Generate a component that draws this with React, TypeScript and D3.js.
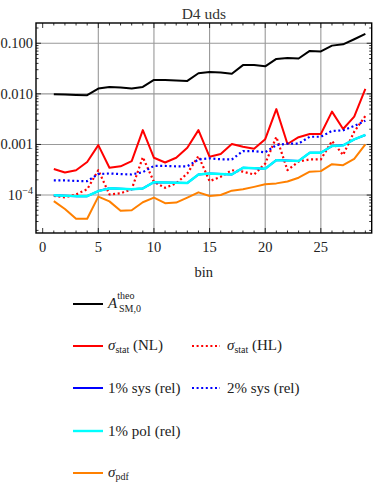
import React from 'react';
import * as d3 from 'd3';

// Data (bins 1..29)

const bins: number[] = d3.range(1, 30);

const theo: number[] = [
    0.0098, 0.0097, 0.0095, 0.0094, 0.0127, 0.0137, 0.0133, 0.0127, 0.0137, 0.0188,
    0.0188, 0.0183, 0.018, 0.0255, 0.027, 0.0263, 0.025, 0.037, 0.037, 0.035,
    0.049, 0.051, 0.05, 0.0705, 0.069, 0.0897, 0.095, 0.12, 0.153,
];

const statNL: number[] = [
    3.26e-4, 2.8e-4, 3.1e-4, 4.5e-4, 9.7e-4, 3.46e-4, 3.7e-4, 4.7e-4, 1.92e-3, 5.45e-4,
    4.4e-4, 5.45e-4, 8.6e-4, 1.92e-3, 5.7e-4, 6.5e-4, 1.02e-3, 9.0e-4, 8.2e-4, 1.27e-3,
    5.0e-3, 1.02e-3, 1.39e-3, 1.61e-3, 1.61e-3, 4.45e-3, 2.02e-3, 3.55e-3, 0.0125,
];

const statHL: number[] = [
    9.6e-5, 9.0e-5, 1.03e-4, 1.3e-4, 3.1e-4, 1.03e-4, 1.08e-4, 1.3e-4, 5.6e-4, 1.82e-4,
    1.39e-4, 1.7e-4, 2.67e-4, 5.9e-4, 1.88e-4, 2.3e-4, 3.1e-4, 2.9e-4, 2.55e-4, 4.2e-4,
    1.41e-3, 3.1e-4, 4.6e-4, 5.05e-4, 5.05e-4, 1.17e-3, 6.2e-4, 1.79e-3, 3.65e-3,
];

const sys2: number[] = [
    1.95e-4, 1.95e-4, 1.9e-4, 1.88e-4, 2.6e-4, 2.67e-4, 2.6e-4, 2.55e-4, 2.83e-4, 3.76e-4,
    3.76e-4, 3.7e-4, 3.7e-4, 5.05e-4, 5.3e-4, 5.1e-4, 5.05e-4, 7.4e-4, 7.4e-4, 7.0e-4,
    9.7e-4, 1.04e-3, 1.04e-3, 1.42e-3, 1.42e-3, 1.85e-3, 1.9e-3, 2.32e-3, 2.95e-3,
];

// 1% sys is hidden under the 1% pol curve
const sys1: number[] = [
    9.9e-5, 9.7e-5, 9.5e-5, 9.5e-5, 1.2e-4, 1.36e-4, 1.33e-4, 1.3e-4, 1.35e-4, 1.8e-4,
    1.77e-4, 1.75e-4, 1.73e-4, 2.55e-4, 2.67e-4, 2.6e-4, 2.55e-4, 3.46e-4, 3.4e-4, 3.3e-4,
    4.9e-4, 4.8e-4, 4.7e-4, 6.85e-4, 6.85e-4, 9.3e-4, 9.6e-4, 1.26e-3, 1.54e-3,
];

const pol1: number[] = [
    9.9e-5, 9.7e-5, 9.5e-5, 9.5e-5, 1.2e-4, 1.36e-4, 1.33e-4, 1.3e-4, 1.35e-4, 1.8e-4,
    1.77e-4, 1.75e-4, 1.73e-4, 2.55e-4, 2.67e-4, 2.6e-4, 2.55e-4, 3.46e-4, 3.4e-4, 3.3e-4,
    4.9e-4, 4.8e-4, 4.7e-4, 6.85e-4, 6.85e-4, 9.3e-4, 9.6e-4, 1.26e-3, 1.54e-3,
];

const pdf: number[] = [
    7.6e-5, 5.3e-5, 3.4e-5, 3.4e-5, 9.3e-5, 7.5e-5, 4.9e-5, 5.0e-5, 7.2e-5, 8.9e-5,
    6.9e-5, 7.1e-5, 8.9e-5, 1.13e-4, 9.6e-5, 1.0e-4, 1.22e-4, 1.3e-4, 1.45e-4, 1.63e-4,
    1.7e-4, 1.85e-4, 2.2e-4, 2.9e-4, 2.97e-4, 4.07e-4, 3.9e-4, 5.2e-4, 1.0e-3,
];

const xTicks: number[] = [0, 5, 10, 15, 20, 25];
const yTicks: number[] = [0.1, 0.01, 0.001, 1e-4];
const yTickLabels: string[] = ['0.100', '0.010', '0.001', '10'];

type Series = { values: number[]; color: string; dashed: boolean; width: number };

const series: Series[] = [
    { values: theo, color: '#000000', dashed: false, width: 2 },
    { values: statNL, color: '#ff0000', dashed: false, width: 2 },
    { values: statHL, color: '#ff0000', dashed: true, width: 2.2 },
    { values: sys1, color: '#0000ff', dashed: false, width: 2 },
    { values: sys2, color: '#0000ff', dashed: true, width: 2.2 },
    { values: pol1, color: '#00ffff', dashed: false, width: 2.4 },
    { values: pdf, color: '#ff8000', dashed: false, width: 2 },
];

const FONT = '"Liberation Serif", "DejaVu Serif", serif';

function App() {
    const left = 36, right = 371.7, top = 23, bottom = 233;

    const x = d3.scaleLinear().domain([-0.6, 29.57]).range([left, right]);
    const y = d3.scaleLog().domain([Math.pow(10, -4.75), Math.pow(10, -0.6)]).range([bottom, top]);

    const line = (vals: number[]) =>
        d3.line<number>().x((_, i) => x(bins[i])).y((d) => y(d))(vals) || '';

    const minorX = d3.range(0, 30);
    const minorY: number[] = [];
    for (let e = -5; e <= -1; e++) {
        for (let m = 1; m <= 9; m++) {
            const v = m * Math.pow(10, e);
            if (y(v) <= bottom && y(v) >= top) minorY.push(v);
        }
    }

    const legendRows = [304, 346, 388, 431, 473];

    return (
        <svg width={374} height={494} style={{ position: 'absolute', left: 0, top: 0, background: '#fff' }}
            fontFamily={FONT}>
            {/* title */}
            <text x={(left + right) / 2} y={19} textAnchor="middle" fontSize={15.5} fill="#333">D4 uds</text>

            {/* grid */}
            <g stroke="#999" strokeWidth={1.1}>
                {xTicks.filter((t) => t > 0).map((t) => (
                    <line key={'gx' + t} x1={x(t)} x2={x(t)} y1={top} y2={bottom} />
                ))}
                {yTicks.map((t) => (
                    <line key={'gy' + t} x1={left} x2={right} y1={y(t)} y2={y(t)} />
                ))}
            </g>

            {/* ticks */}
            <g stroke="#000" strokeWidth={0.8}>
                {minorX.map((t) => {
                    const len = t % 5 === 0 ? 5 : 2.5;
                    return (
                        <g key={'tx' + t}>
                            <line x1={x(t)} x2={x(t)} y1={bottom} y2={bottom - len} />
                            <line x1={x(t)} x2={x(t)} y1={top} y2={top + len} />
                        </g>
                    );
                })}
                {minorY.map((v, i) => {
                    const major = Math.abs(Math.log10(v) - Math.round(Math.log10(v))) < 1e-9;
                    const len = major ? 5 : 2.5;
                    return (
                        <g key={'ty' + i}>
                            <line x1={left} x2={left + len} y1={y(v)} y2={y(v)} />
                            <line x1={right} x2={right - len} y1={y(v)} y2={y(v)} />
                        </g>
                    );
                })}
            </g>

            {/* series */}
            <g fill="none" strokeLinejoin="round">
                {series.map((s, i) => (
                    <path key={'s' + i} d={line(s.values)} stroke={s.color} strokeWidth={s.width}
                        strokeDasharray={s.dashed ? '2,2.6' : undefined} />
                ))}
            </g>

            {/* frame */}
            <rect x={left} y={top} width={right - left} height={bottom - top} fill="none" stroke="#000" strokeWidth={1.4} />

            {/* x tick labels */}
            <g fontSize={14.5} fill="#222" textAnchor="middle">
                {xTicks.map((t) => (
                    <text key={'lx' + t} x={x(t)} y={252}>{t}</text>
                ))}
            </g>
            <text x={(left + right) / 2} y={277} textAnchor="middle" fontSize={14.5} fill="#222">bin</text>

            {/* y tick labels */}
            <g fontSize={14.5} fill="#222" textAnchor="end">
                {yTicks.map((t, i) => (
                    i < 3 ? (
                        <text key={'ly' + t} x={33} y={y(t) + 5}>{yTickLabels[i]}</text>
                    ) : (
                        <text key={'ly' + t} x={33} y={y(t) + 5}>
                            {yTickLabels[i]}
                            <tspan fontSize={10} dy={-6}>−4</tspan>
                        </text>
                    )
                ))}
            </g>

            {/* legend */}
            <g fontSize={15} fill="#222">
                <line x1={73} x2={103} y1={legendRows[0]} y2={legendRows[0]} stroke="#000" strokeWidth={2} />
                <text x={108} y={legendRows[0] + 4}>
                    <tspan fontStyle="italic">A</tspan>
                    <tspan fontSize={10} dy={-9}>theo</tspan>
                    <tspan fontSize={10} x={119} dy={13}>SM,0</tspan>
                </text>

                <line x1={73} x2={103} y1={legendRows[1]} y2={legendRows[1]} stroke="#ff0000" strokeWidth={2} />
                <text x={108} y={legendRows[1] + 4}>
                    <tspan fontStyle="italic">σ</tspan>
                    <tspan fontSize={10} dy={3}>stat</tspan>
                    <tspan dy={-3}> (NL)</tspan>
                </text>
                <line x1={192} x2={220} y1={legendRows[1]} y2={legendRows[1]} stroke="#ff0000" strokeWidth={2.2} strokeDasharray="2,2.6" />
                <text x={227} y={legendRows[1] + 4}>
                    <tspan fontStyle="italic">σ</tspan>
                    <tspan fontSize={10} dy={3}>stat</tspan>
                    <tspan dy={-3}> (HL)</tspan>
                </text>

                <line x1={73} x2={103} y1={legendRows[2]} y2={legendRows[2]} stroke="#0000ff" strokeWidth={2} />
                <text x={108} y={legendRows[2] + 5}>1% sys (rel)</text>
                <line x1={192} x2={220} y1={legendRows[2]} y2={legendRows[2]} stroke="#0000ff" strokeWidth={2.2} strokeDasharray="2,2.6" />
                <text x={227} y={legendRows[2] + 5}>2% sys (rel)</text>

                <line x1={73} x2={103} y1={legendRows[3]} y2={legendRows[3]} stroke="#00ffff" strokeWidth={2.4} />
                <text x={108} y={legendRows[3] + 5}>1% pol (rel)</text>

                <line x1={73} x2={103} y1={legendRows[4]} y2={legendRows[4]} stroke="#ff8000" strokeWidth={2} />
                <text x={108} y={legendRows[4] + 4}>
                    <tspan fontStyle="italic">σ</tspan>
                    <tspan fontSize={10} dy={3}>pdf</tspan>
                </text>
            </g>
        </svg>
    );
}

export default App;
